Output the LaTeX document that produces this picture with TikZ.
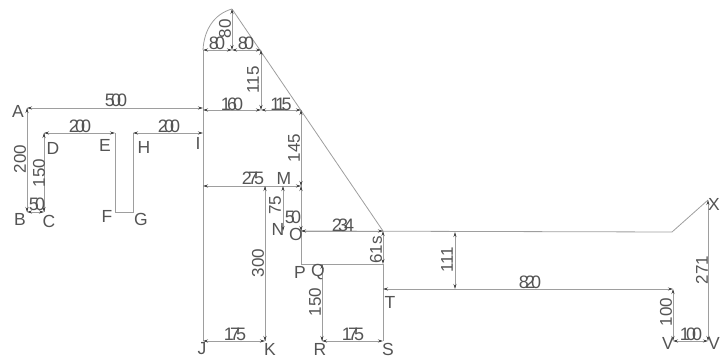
\documentclass[tikz,border=0pt]{standalone}
\usepackage{fontspec}
\setmainfont{Liberation Sans}
\newfontfamily\dimfont[LetterSpace=-21]{Liberation Sans}
\usetikzlibrary{arrows.meta}
\definecolor{linec}{gray}{0.62}
\definecolor{textc}{gray}{0.33}
\tikzset{
  outline/.style={draw=linec,line width=0.8pt},
  dimline/.style={draw=linec,line width=0.7pt,{Stealth[length=5pt,width=3pt,color=black!75]}-{Stealth[length=5pt,width=3pt,color=black!75]}},
  pointlabel/.style={text=textc,font=\fontsize{17.5}{18}\selectfont,inner sep=0pt},
  dimlabel/.style={text=textc,font=\dimfont\fontsize{18}{18}\selectfont,inner sep=0pt},
  vdimlabel/.style={text=textc,font=\fontsize{17}{18}\selectfont,inner sep=0pt,rotate=90}
}
\begin{document}
\begin{tikzpicture}[x=1pt,y=-1pt]
\useasboundingbox (0,0) rectangle (720,358);
% geometry points
\coordinate (A) at (27,108);
\coordinate (B) at (27,212);
\coordinate (C) at (44,212);
\coordinate (D) at (44,133);
\coordinate (E) at (115,133);
\coordinate (F) at (115,212);
\coordinate (G) at (133,212);
\coordinate (H) at (133,133);
\coordinate (I) at (203,133);
\coordinate (AI) at (203,108);
\coordinate (J) at (203,341);
\coordinate (K) at (265,341);
\coordinate (N) at (265,186);
\coordinate (M) at (301,186);
\coordinate (Top) at (232,9);
\coordinate (ArcS) at (203,50);
\coordinate (Mid) at (232,50);
\coordinate (Mr) at (261,50);
\coordinate (Lo) at (261,110);
\coordinate (L1) at (203,110);
\coordinate (L2) at (301,110);
\coordinate (O) at (301,231);
\coordinate (P) at (301,264);
\coordinate (Q) at (322,264);
\coordinate (R) at (322,341);
\coordinate (S) at (383,341);
\coordinate (T) at (383,289);
\coordinate (W) at (383,231);
\coordinate (W2) at (383,264);
\coordinate (V) at (673,341);
\coordinate (V1) at (673,289);
\coordinate (Y) at (672,232);
\coordinate (X) at (708,200);
\coordinate (V2) at (708,341);
\coordinate (H1) at (455,232);
\coordinate (H2) at (455,289);
\coordinate (N1) at (283,186);
\coordinate (N2) at (283,231);
% outlines
\draw[outline] (A) -- (B) (C) -- (D) (E) -- (F) -- (G) -- (H);
\draw[outline] (Top) -- (W);
\draw[outline] (ArcS) .. controls (204,30) and (214,14) .. (Top);
\draw[outline] (ArcS) -- (J);
\draw[outline] (N) -- (K);
\draw[outline] (L2) -- (P) -- (Q) -- (R);
\draw[outline] (W2) -- (S);
\draw[outline] (O) -- (Y) -- (X);
\draw[outline] (W2) -- (Q);
% dimensions
\draw[dimline] (A) -- (AI);
\draw[dimline] (D) -- (E);
\draw[dimline] (H) -- (I);
\draw[dimline] (A) -- (B);
\draw[dimline] (D) -- (C);
\draw[dimline] (B) -- (C);
\draw[dimline] (Top) -- (Mid);
\draw[dimline] (ArcS) -- (Mid);
\draw[dimline] (Mid) -- (Mr);
\draw[dimline] (Mr) -- (Lo);
\draw[dimline] (L1) -- (Lo);
\draw[dimline] (Lo) -- (L2);
\draw[dimline] (L2) -- (M);
\draw[dimline] (I |- N) -- (M);
\draw[dimline] (N1) -- (N2);
\draw[dimline] (M) -- (O);
\draw[dimline] (O) -- (W);
\draw[dimline] (W) -- (W2);
\draw[dimline] (N) -- (K);
\draw[dimline] (J) -- (K);
\draw[dimline] (Q) -- (R);
\draw[dimline] (R) -- (S);
\draw[dimline] (H1) -- (H2);
\draw[dimline] (T) -- (V1);
\draw[dimline] (V1) -- (V);
\draw[dimline] (V) -- (V2);
\draw[dimline] (X) -- (V2);
% point labels
\node[pointlabel] (lA) at (18,111) {A};
\node[pointlabel] (lB) at (20,219) {B};
\node[pointlabel] (lC) at (49,221) {C};
\node[pointlabel] (lD) at (53,148) {D};
\node[pointlabel] (lE) at (105,145) {E};
\node[pointlabel] (lF) at (107,216) {F};
\node[pointlabel] (lG) at (141,219) {G};
\node[pointlabel] (lH) at (144,147) {H};
\node[pointlabel] (lI) at (198,143) {I};
\node[pointlabel] (lJ) at (202,349) {J};
\node[pointlabel] (lK) at (270,349) {K};
\node[pointlabel] (lM) at (284,178) {M};
\node[pointlabel] (lN) at (278,229) {N};
\node[pointlabel] (lO) at (296,234) {O};
\node[pointlabel] (lP) at (300,272) {P};
\node[pointlabel] (lQ) at (318,272) {Q};
\node[pointlabel] (lR) at (320,349) {R};
\node[pointlabel] (lS) at (388,349) {S};
\node[pointlabel] (lT) at (390,302) {T};
\node[pointlabel] (lV) at (668,343) {V};
\node[pointlabel] (lV2) at (714,343) {V};
\node[pointlabel] (lX) at (714,204) {X};
% dimension labels
\node[dimlabel] (d1) at (116,100) {500};
\node[dimlabel] (d2) at (80,126) {200};
\node[dimlabel] (d3) at (169,126) {200};
\node[vdimlabel] (d4) at (20,159) {200};
\node[vdimlabel] (d5) at (39,173) {150};
\node[dimlabel] (d6) at (37,204) {50};
\node[vdimlabel] (d7) at (225,29) {80};
\node[dimlabel] (d8) at (217,43) {80};
\node[dimlabel] (d9) at (246,43) {80};
\node[vdimlabel] (d10) at (253,80) {115};
\node[dimlabel] (d11) at (232,104) {160};
\node[dimlabel] (d12) at (281,104) {115};
\node[vdimlabel] (d13) at (294,148) {145};
\node[dimlabel] (d14) at (253,178) {275};
\node[vdimlabel] (d15) at (275,205) {75};
\node[dimlabel] (d16) at (293,217) {50};
\node[dimlabel] (d17) at (343,225) {234};
\node[vdimlabel] (d18) at (376,250) {61s};
\node[vdimlabel] (d19) at (258,263) {300};
\node[vdimlabel] (d20) at (315,302) {150};
\node[dimlabel] (d21) at (235,334) {175};
\node[dimlabel] (d22) at (353,334) {175};
\node[vdimlabel] (d23) at (447,260) {111};
\node[dimlabel] (d24) at (530,282) {820};
\node[vdimlabel] (d25) at (666,312) {100};
\node[dimlabel] (d26) at (691,334) {100};
\node[vdimlabel] (d27) at (702,270) {271};
\end{tikzpicture}
\end{document}
